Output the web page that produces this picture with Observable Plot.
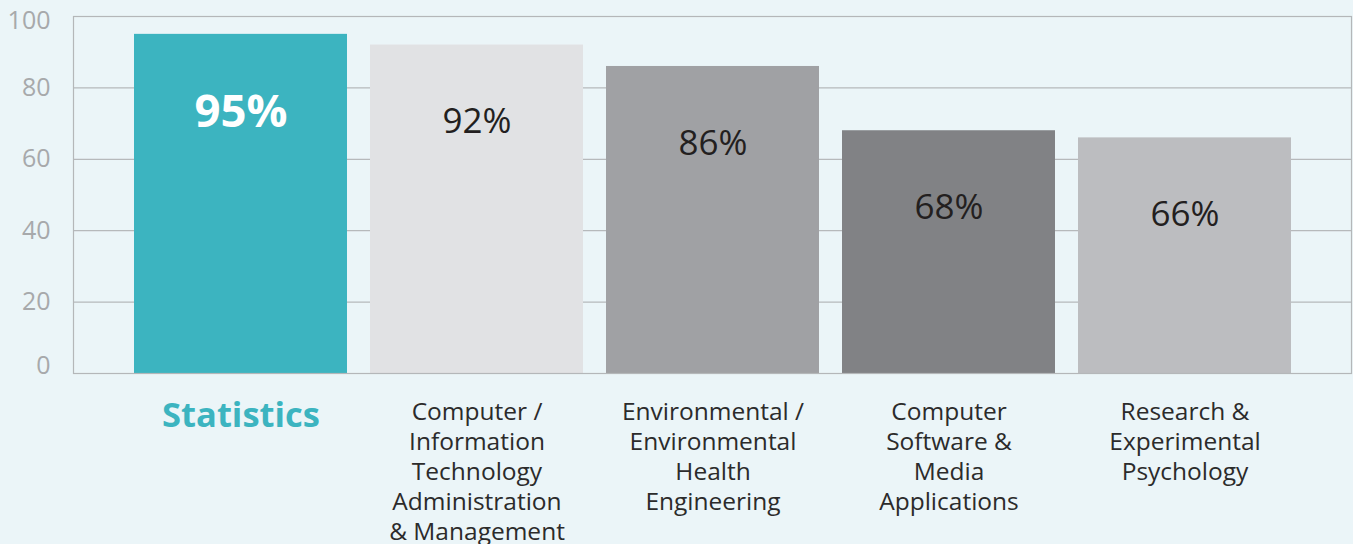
<!DOCTYPE html>
<html>
<head>
<meta charset="utf-8">
<script src="https://cdn.jsdelivr.net/npm/d3@7"></script>
<script src="https://cdn.jsdelivr.net/npm/@observablehq/plot@0.6"></script>
<style>
  html, body { margin: 0; padding: 0; background: #ebf5f8; }
  #chart svg { display: block; }
</style>
</head>
<body>
<div id="chart"></div>
<script>
const categories = [
  "Statistics",
  "Computer / Information Technology Administration & Management",
  "Environmental / Environmental Health Engineering",
  "Computer Software & Media Applications",
  "Research & Experimental Psychology"
];
const categoryLines = [
  "Statistics",
  "Computer /\nInformation\nTechnology\nAdministration\n& Management",
  "Environmental /\nEnvironmental\nHealth\nEngineering",
  "Computer\nSoftware &\nMedia\nApplications",
  "Research &\nExperimental\nPsychology"
];
const values = [95, 92, 86, 68, 66];
const valueLabels = ["95%", "92%", "86%", "68%", "66%"];
const yTicks = [0, 20, 40, 60, 80, 100];

const barColors = ["#3cb4c0", "#e1e2e4", "#a0a1a4", "#818285", "#bcbdc0"];
const highlight = "Statistics";

const data = categories.map((c, i) => ({
  name: c, lines: categoryLines[i], value: values[i], label: valueLabels[i]
}));

const font = "'Open Sans', sans-serif";
const isHi = d => d.name === highlight;

const chart = Plot.plot({
  width: 1353,
  height: 544,
  marginLeft: 73,
  marginRight: 2,
  marginTop: 16,
  marginBottom: 171,
  style: { background: "#ebf5f8", fontFamily: font },
  x: { domain: categories, paddingInner: 0.0975, paddingOuter: 0.256, axis: null },
  y: { domain: [0, 100], axis: null },
  color: { domain: categories, range: barColors },
  marks: [
    Plot.ruleY(yTicks.filter(t => t > 0 && t < 100), { stroke: "#b6b9bb", strokeWidth: 1.2 }),
    Plot.barY(data, { x: "name", y: "value", fill: "name" }),
    Plot.frame({ stroke: "#b4b7b9", strokeWidth: 1.2 }),
    // y tick labels
    Plot.text(yTicks.filter(t => t > 0 && t < 100), {
      y: d => d, text: d => String(d), frameAnchor: "left", textAnchor: "end",
      dx: -23, fontSize: 25, fill: "#a7a9ab"
    }),
    Plot.text([0], { y: d => d, text: d => String(d), frameAnchor: "left", textAnchor: "end",
      dx: -23, dy: -8, fontSize: 25, fill: "#a7a9ab" }),
    Plot.text([100], { y: d => d, text: d => String(d), frameAnchor: "left", textAnchor: "end",
      dx: -23, dy: 4, fontSize: 25, fill: "#a7a9ab" }),
    // value labels
    Plot.text(data.filter(isHi), { x: "name", y: "value", text: "label", dy: 78,
      lineAnchor: "middle", fontSize: 45.5, fontWeight: "bold", fill: "#ffffff" }),
    Plot.text(data.filter(d => !isHi(d)), { x: "name", y: "value", text: "label", dy: 77,
      lineAnchor: "middle", fontSize: 35, fill: "#231f20" }),
    // category labels
    Plot.text(data.filter(isHi), { x: "name", y: 0, text: "lines", dy: 42,
      lineAnchor: "middle", fontSize: 34.5, fontWeight: "bold", fill: "#3cb4c0" }),
    Plot.text(data.filter(d => !isHi(d)), { x: "name", y: 0, text: "lines", dy: 25,
      lineAnchor: "top", lineHeight: 30 / 24.5, fontSize: 24.5, fill: "#2b2b2b" })
  ]
});
document.getElementById("chart").appendChild(chart);
</script>
</body>
</html>
